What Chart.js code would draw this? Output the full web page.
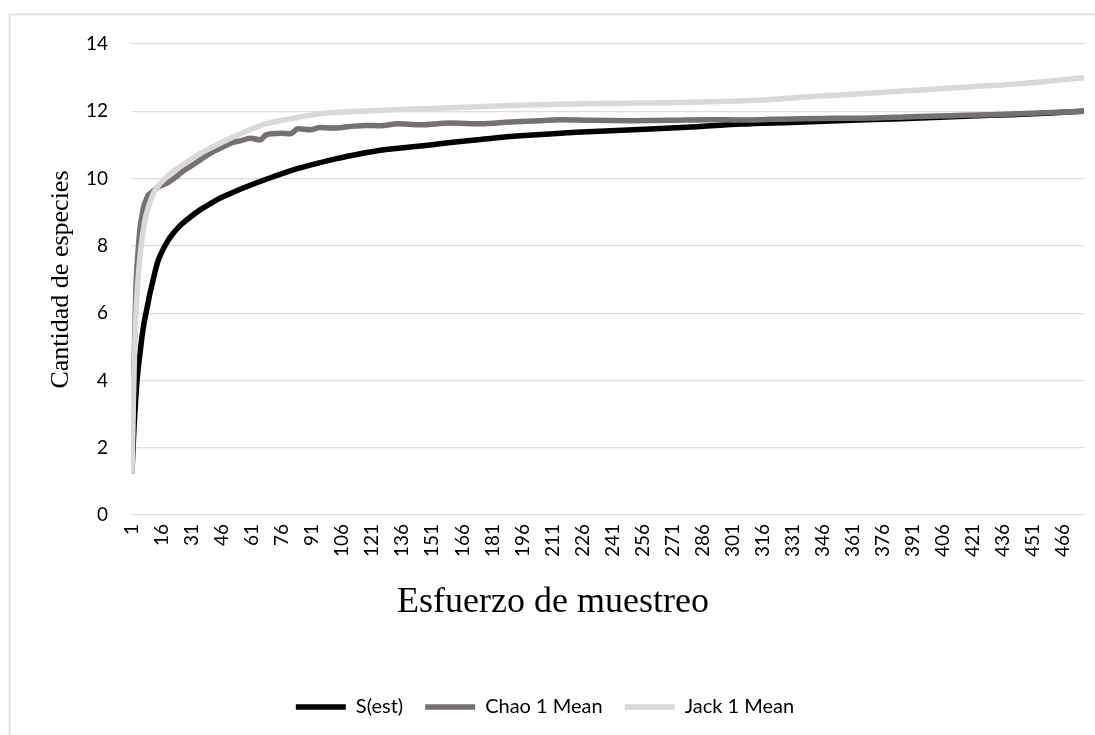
<!DOCTYPE html>
<html>
<head>
<meta charset="utf-8">
<script src="https://cdn.jsdelivr.net/npm/chart.js@4.4.1/dist/chart.umd.min.js"></script>
<style>
  html, body { margin: 0; padding: 0; background: #ffffff; }
  #wrap { width: 1095px; height: 735px; position: relative; }
</style>
</head>
<body>
<div id="wrap"><canvas id="c" width="1095" height="735"></canvas></div>
<script>
// ---- data ----
const seriesNames = ["S(est)", "Chao 1 Mean", "Jack 1 Mean"];
const xTitle = "Esfuerzo de muestreo";
const yTitle = "Cantidad de especies";
const xTickValues = [1, 16, 31, 46, 61, 76, 91, 106, 121, 136, 151, 166, 181, 196, 211, 226, 241, 256, 271, 286, 301, 316, 331, 346, 361, 376, 391, 406, 421, 436, 451, 466];
const yTickValues = [0, 2, 4, 6, 8, 10, 12, 14];

const sestX = [1,2,3,4,5,6,7,8,9,10,11,12,13,14,15,17,20,25,30,35,40,45,51,60,68,76,84,92,100,112,125,134,150,160,175,190,215,240,260,285,305,330,350,375,395,420,440,460,476];
const sestY = [1.3,2.6,3.6,4.3,4.8,5.3,5.7,6.0,6.3,6.6,6.85,7.1,7.35,7.55,7.7,7.95,8.25,8.6,8.85,9.07,9.25,9.42,9.58,9.8,9.98,10.15,10.3,10.43,10.55,10.7,10.84,10.9,11.0,11.07,11.16,11.25,11.35,11.42,11.47,11.55,11.62,11.67,11.71,11.76,11.8,11.86,11.9,11.95,12.0];

const chaoX = [1,2,3,4,5,6,7,8,9,10,12,14,16,18,20,23,26,30,35,40,45,51,55,60,65,68,75,80,84,90,95,101,110,118,125,134,145,160,175,190,205,215,230,250,270,290,305,320,335,350,370,390,410,430,450,476];
const chaoY = [1.3,4.5,6.8,7.8,8.5,8.9,9.2,9.35,9.5,9.55,9.65,9.75,9.8,9.85,9.92,10.05,10.2,10.35,10.55,10.75,10.9,11.07,11.12,11.2,11.15,11.3,11.35,11.33,11.48,11.45,11.52,11.5,11.55,11.58,11.57,11.63,11.6,11.65,11.63,11.68,11.72,11.75,11.73,11.72,11.73,11.75,11.74,11.76,11.78,11.79,11.8,11.84,11.87,11.9,11.94,12.0];

const jackX = [1,2,3,4,5,6,7,8,10,12,15,18,21,25,30,35,40,45,51,60,68,76,84,92,101,115,134,150,170,190,215,240,260,280,300,320,335,350,365,380,400,420,440,460,476];
const jackY = [1.3,4.3,6.0,7.0,7.7,8.2,8.6,8.9,9.3,9.6,9.85,10.03,10.2,10.35,10.55,10.74,10.9,11.05,11.22,11.45,11.63,11.73,11.82,11.9,11.96,12.0,12.05,12.08,12.13,12.17,12.21,12.23,12.25,12.27,12.3,12.35,12.42,12.47,12.52,12.58,12.65,12.73,12.8,12.9,13.0];

const seriesColors = ["#000000", "#767171", "#d9d9d9"];

function pts(xs, ys) { return xs.map((x, i) => ({ x: x, y: ys[i] })); }

const TICK_FONT = "Lato, 'Open Sans', sans-serif";
const SERIF = "'Liberation Serif', 'DejaVu Serif', serif";

const framePlugin = {
  id: 'frame',
  beforeDraw(chart) {
    const ctx = chart.ctx;
    ctx.save();
    ctx.strokeStyle = '#d9dce1';
    ctx.lineWidth = 1.5;
    ctx.beginPath();
    ctx.moveTo(9.5, 735);
    ctx.lineTo(9.5, 14.5);
    ctx.lineTo(1095, 14.5);
    ctx.stroke();
    ctx.restore();
  }
};

const xTitlePlugin = {
  id: 'xTitle',
  afterDraw(chart) {
    const ctx = chart.ctx;
    ctx.save();
    ctx.fillStyle = '#000000';
    ctx.font = "36px " + SERIF;
    ctx.textAlign = 'center';
    ctx.textBaseline = 'middle';
    ctx.fillText(xTitle, 553, 603);
    ctx.restore();
  }
};

const datasets = [
  { label: seriesNames[0], data: pts(sestX, sestY), order: 3 },
  { label: seriesNames[1], data: pts(chaoX, chaoY), order: 2 },
  { label: seriesNames[2], data: pts(jackX, jackY), order: 1 }
].map((d, i) => Object.assign(d, {
  borderColor: seriesColors[i],
  backgroundColor: seriesColors[i],
  borderWidth: 5.5,
  borderCapStyle: 'round',
  borderJoinStyle: 'round',
  pointRadius: 0,
  pointHoverRadius: 0,
  cubicInterpolationMode: 'monotone',
  fill: false
}));

new Chart(document.getElementById('c'), {
  type: 'line',
  data: { datasets: datasets },
  options: {
    responsive: false,
    animation: false,
    layout: { padding: { left: 0, right: 5, top: 44, bottom: 8 } },
    plugins: {
      tooltip: { enabled: false },
      legend: {
        display: true,
        position: 'bottom',
        labels: {
          sort: (a, b) => a.datasetIndex - b.datasetIndex,
          usePointStyle: true,
          pointStyle: 'line',
          pointStyleWidth: 50,
          boxHeight: 20,
          padding: 22,
          color: '#000000',
          font: { family: TICK_FONT, size: 20 }
        }
      }
    },
    scales: {
      x: {
        type: 'linear',
        min: 0.5,
        max: 476.5,
        grid: { display: false, drawTicks: false },
        border: { display: false },
        afterBuildTicks(scale) { scale.ticks = xTickValues.map(v => ({ value: v })); },
        afterFit(scale) { scale.height = 160; },
        ticks: {
          autoSkip: false,
          minRotation: 90,
          maxRotation: 90,
          padding: 9,
          color: '#000000',
          font: { family: TICK_FONT, size: 19 },
          callback: (v) => String(v)
        }
      },
      y: {
        min: 0,
        max: 14,
        afterBuildTicks(scale) { scale.ticks = yTickValues.map(v => ({ value: v })); },
        afterFit(scale) { scale.width = 131; },
        grid: { color: '#dadde2', lineWidth: 1.2, drawTicks: false },
        border: { display: false },
        title: {
          display: true,
          text: yTitle,
          color: '#000000',
          font: { family: SERIF, size: 26 },
          padding: { top: 46, bottom: 0 }
        },
        ticks: {
          padding: 23,
          color: '#000000',
          font: { family: TICK_FONT, size: 19 }
        }
      }
    }
  },
  plugins: [framePlugin, xTitlePlugin]
});
</script>
</body>
</html>
